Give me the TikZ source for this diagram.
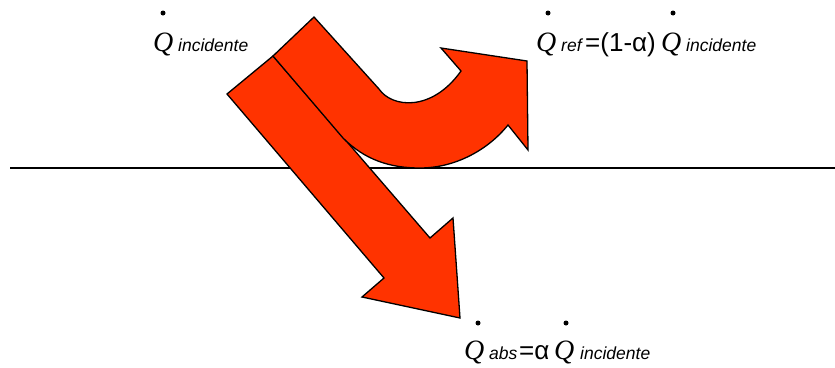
\documentclass[tikz,border=0pt]{standalone}
\usepackage{fontspec}
\setmainfont{Liberation Sans}
\newfontfamily\qfont{Liberation Serif}
\definecolor{arrowred}{RGB}{255,51,0}
\tikzset{
  bigarrow/.style={fill=arrowred, draw=black, line width=1.3pt, line join=miter},
  qsym/.style={anchor=base west, inner sep=0pt, font=\qfont\itshape\fontsize{28}{28}\selectfont},
  subtxt/.style={anchor=base west, inner sep=0pt, font=\itshape\fontsize{17.5}{17.5}\selectfont},
  optxt/.style={anchor=base west, inner sep=0pt, font=\fontsize{26}{26}\selectfont},
  qdot/.style={circle, fill=black, inner sep=0pt, minimum size=5pt}
}
\begin{document}
\begin{tikzpicture}[x=1pt,y=-1pt]
\useasboundingbox (0,0) rectangle (835,367);
% surface line
\draw[line width=2pt] (10,167.5) -- (835,167.5);
% absorbed (straight) arrow
\draw[bigarrow] (227,94) -- (384,278) -- (362,297) -- (460,318) -- (453,218) -- (430,238) -- (273,56) -- cycle;
% reflected (curved) arrow
\draw[bigarrow] (273,56) -- (314,17) -- (379,89)
  .. controls (392,108) and (432,112) .. (461,71)
  -- (441,48) -- (527,61) -- (528,150) -- (508,125)
  .. controls (488,150) and (455,168) .. (420,168)
  .. controls (390,168) and (365,160) .. (343,138) -- cycle;
% labels
\node[qdot] (d1) at (163,13) {};
\node[qsym] (q1) at (153,51) {Q};
\node[subtxt] (s1) at (178,51) {incidente};

\node[qdot] (d2) at (548,13) {};
\node[qsym] (q2) at (536,51) {Q};
\node[subtxt] (s2) at (561,51) {ref};
\node[optxt] (o2) at (585,51) {=(1-α)};
\node[qdot] (d3) at (673,13) {};
\node[qsym] (q3) at (661,51) {Q};
\node[subtxt] (s3) at (686,51) {incidente};

\node[qdot] (d4) at (478,323) {};
\node[qsym] (q4) at (464,359) {Q};
\node[subtxt] (s4) at (489,359) {abs};
\node[optxt] (o4) at (519,359) {=α};
\node[qdot] (d5) at (566,323) {};
\node[qsym] (q5) at (554,359) {Q};
\node[subtxt] (s5) at (580,359) {incidente};
\end{tikzpicture}
\end{document}
